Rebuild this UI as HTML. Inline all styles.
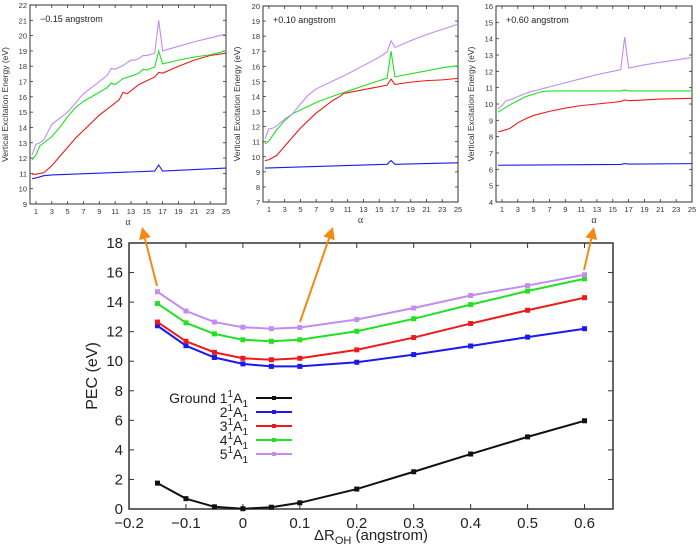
<!DOCTYPE html>
<html><head><meta charset="utf-8"><style>
html,body{margin:0;padding:0;background:#fff;}
svg{display:block;font-family:"Liberation Sans",sans-serif;}
</style></head><body>
<svg id="fig" width="700" height="546" viewBox="0 0 700 546"></svg>
<script>
// ===== Main chart data =====
const mainX = [-0.15,-0.1,-0.05,0,0.05,0.1,0.2,0.3,0.4,0.5,0.6];
const groundVals = [1.75,0.7,0.15,0.02,0.12,0.42,1.35,2.52,3.72,4.88,5.97];
const s2Vals = [12.4,11.05,10.25,9.82,9.65,9.65,9.93,10.45,11.03,11.63,12.2];
const s3Vals = [12.65,11.35,10.6,10.2,10.1,10.2,10.77,11.6,12.55,13.45,14.3];
const s4Vals = [13.9,12.6,11.85,11.45,11.35,11.45,12.03,12.87,13.83,14.75,15.58];
const s5Vals = [14.7,13.4,12.65,12.3,12.2,12.28,12.82,13.6,14.45,15.12,15.85];
const mainXTicks = [-0.2,-0.1,0,0.1,0.2,0.3,0.4,0.5,0.6];
const mainXTickLabels = ["\u22120.2","\u22120.1","0","0.1","0.2","0.3","0.4","0.5","0.6"];
const mainYTicks = [0,2,4,6,8,10,12,14,16,18];

// ===== Inset data (-0.15) =====
const a1Blue = [0.5,1,2,3,16,16.5,17,25];
const v1Blue = [10.65,10.7,10.85,10.9,11.15,11.55,11.15,11.35];
const a1Red = [0.5,1,2,3,4,5,6,7,8,9,10,11,11.5,12,12.5,13,14,15,16,16.5,17,19,21,23,25];
const v1Red = [10.95,10.95,11.05,11.5,12.1,12.7,13.3,13.8,14.3,14.8,15.2,15.6,15.8,16.3,16.2,16.4,16.8,17.05,17.3,17.6,17.55,18.0,18.4,18.7,18.85];
const a1Green = [0.5,1,1.5,2,3,4,5,6,7,8,9,10,10.5,11,12,13,14,14.5,15,16,16.5,17,19,21,23,25];
const v1Green = [11.9,12.2,12.8,13.0,13.4,14.0,14.7,15.3,15.7,16.0,16.3,16.6,16.9,16.8,17.2,17.35,17.55,17.8,17.75,17.95,19.0,18.15,18.4,18.6,18.75,19.0];
const a1Purple = [0.5,1,1.5,2,3,4,5,6,7,8,9,10,10.5,11,12,13,13.5,14,14.5,15,16,16.5,17,19,21,23,25];
const v1Purple = [12.2,12.9,13.0,13.2,14.2,14.6,15.0,15.6,16.2,16.6,17.0,17.4,17.85,17.8,18.05,18.4,18.4,18.5,18.7,18.7,18.85,21.0,19.0,19.3,19.6,19.85,20.1];
// ===== Inset data (+0.10) =====
const a2Blue = [0.5,16,16.5,17,25];
const v2Blue = [9.25,9.5,9.75,9.5,9.6];
const a2Red = [0.5,1,2,3,4,5,6,7,8,9,10,10.5,11,13,15,16,16.5,17,19,21,23,25];
const v2Red = [9.75,9.8,10.1,10.7,11.3,11.9,12.4,12.9,13.3,13.7,14.0,14.2,14.25,14.45,14.65,14.75,15.15,14.8,14.95,15.05,15.1,15.2];
const a2Green = [0.5,1,2,3,4,5,7,9,11,13,15,16,16.5,17,19,21,23,25];
const v2Green = [10.85,11.05,11.8,12.4,12.85,13.1,13.6,14.0,14.35,14.7,15.05,15.2,17.0,15.3,15.5,15.7,15.9,16.05];
const a2Purple = [0.5,1,1.5,2,3,4,5,6,7,9,11,13,15,16,16.5,17,19,21,23,25];
const v2Purple = [11.2,11.85,11.9,12.05,12.5,12.85,13.5,14.1,14.5,15.0,15.5,16.05,16.6,16.95,17.7,17.25,17.7,18.1,18.45,18.8];
// ===== Inset data (+0.60) =====
const a3Blue = [0.5,16,16.5,17,25];
const v3Blue = [6.25,6.3,6.35,6.32,6.35];
const a3Red = [0.5,1,2,3,4,5,7,9,11,13,15,16,16.5,17,19,21,25];
const v3Red = [8.3,8.35,8.5,8.85,9.1,9.3,9.55,9.75,9.9,10.0,10.1,10.15,10.25,10.2,10.25,10.3,10.35];
const a3Green = [0.5,1,2,3,4,5,6,7,9,16,16.5,17,25];
const v3Green = [9.5,9.65,9.95,10.2,10.45,10.6,10.75,10.8,10.8,10.8,10.85,10.8,10.8];
const a3Purple = [0.5,1,1.5,2,3,4,5,7,9,11,13,15,16,16.5,17,19,21,23,25];
const v3Purple = [9.7,9.9,10.2,10.25,10.45,10.65,10.8,11.05,11.3,11.55,11.8,12.0,12.1,14.1,12.2,12.4,12.55,12.7,12.85];
const alphaTicks = [1,3,5,7,9,11,13,15,17,19,21,23,25];

const NS="http://www.w3.org/2000/svg";
const svg=document.getElementById('fig');
function mk(tag,attrs,parent){const e=document.createElementNS(NS,tag);for(const k in attrs)e.setAttribute(k,attrs[k]);(parent||svg).appendChild(e);return e;}
const C={blue:"#1a1aee",red:"#ee1a1a",green:"#22e022",purple:"#c28cf0",black:"#111"};

function inset(g,L,R,T,B,ymin,ymax,label,ylabX,sets){
  const xs=a=>L+(a-0.25)/(25-0.25)*(R-L);
  const ys=v=>B-(v-ymin)/(ymax-ymin)*(B-T);
  const box=mk('rect',{x:L,y:T,width:R-L,height:B-T,fill:'none',stroke:'#333','stroke-width':1},g);
  
  
  for(let v=ymin;v<=ymax;v++){
    mk('line',{x1:L,x2:L+3,y1:ys(v),y2:ys(v),stroke:'#333','stroke-width':0.8},g);
    mk('line',{x1:R,x2:R-3,y1:ys(v),y2:ys(v),stroke:'#333','stroke-width':0.8},g);
    const t=mk('text',{x:L-3,y:ys(v)+3,'font-size':7.5,'text-anchor':'end',fill:'#333'},g);t.textContent=v;
    
    
  }
  alphaTicks.forEach(a=>{
    mk('line',{x1:xs(a),x2:xs(a),y1:B,y2:B-3,stroke:'#333','stroke-width':0.8},g);
    mk('line',{x1:xs(a),x2:xs(a),y1:T,y2:T+3,stroke:'#333','stroke-width':0.8},g);
    const t=mk('text',{x:xs(a),y:B+10,'font-size':7.5,'text-anchor':'middle',fill:'#333'},g);t.textContent=a;
    
    
  });
  const xl=mk('text',{x:(L+R)/2,y:B+21,'font-size':10,'text-anchor':'middle',fill:'#333','font-family':'Liberation Serif, serif'},g);xl.textContent='\u03b1';
  
  
  const yl=mk('text',{x:ylabX,y:(T+B)/2,'font-size':8.5,'text-anchor':'middle',fill:'#333',transform:`rotate(-90 ${ylabX} ${(T+B)/2})`},g);yl.textContent='Vertical Excitation Energy (eV)';
  
  
  const an=mk('text',{x:L+10,y:T+17,'font-size':9,fill:'#222'},g);an.textContent=label;
  
  
  sets.forEach(([a,v,c,n])=>{
    const p=mk('polyline',{points:a.map((x,i)=>xs(x)+','+ys(v[i])).join(' '),fill:'none',stroke:c,'stroke-width':1.1},g);
    
    
  });
}
let g1=mk('g',{});
inset(g1,30,226,5,204,9,22,'\u22120.15 angstrom',8,[[a1Blue,v1Blue,C.blue,'inset1-line-2A1'],[a1Red,v1Red,C.red,'inset1-line-3A1'],[a1Green,v1Green,C.green,'inset1-line-4A1'],[a1Purple,v1Purple,C.purple,'inset1-line-5A1']]);
let g2=mk('g',{});
inset(g2,263,458,6,202,7,20,'+0.10 angstrom',240,[[a2Blue,v2Blue,C.blue,'inset2-line-2A1'],[a2Red,v2Red,C.red,'inset2-line-3A1'],[a2Green,v2Green,C.green,'inset2-line-4A1'],[a2Purple,v2Purple,C.purple,'inset2-line-5A1']]);
let g3=mk('g',{});
inset(g3,496,692,6,202,4,16,'+0.60 angstrom',474,[[a3Blue,v3Blue,C.blue,'inset3-line-2A1'],[a3Red,v3Red,C.red,'inset3-line-3A1'],[a3Green,v3Green,C.green,'inset3-line-4A1'],[a3Purple,v3Purple,C.purple,'inset3-line-5A1']]);

// ===== Main chart =====
const ML=129,MR=613,MT=243,MB=509;
const mx=x=>ML+(x+0.2)/0.85*(MR-ML);
const my=v=>MB-v/18*(MB-MT);
const gm=mk('g',{});
mainYTicks.forEach(v=>{
  mk('line',{x1:ML,x2:ML+5,y1:my(v),y2:my(v),stroke:'#333'},gm);
  mk('line',{x1:MR,x2:MR-5,y1:my(v),y2:my(v),stroke:'#333'},gm);
  const t=mk('text',{x:ML-6,y:my(v)+5,'font-size':15,'text-anchor':'end',fill:'#222'},gm);t.textContent=v;
  
  
});
mainXTicks.forEach((x,i)=>{
  mk('line',{x1:mx(x),x2:mx(x),y1:MB,y2:MB-5,stroke:'#333'},gm);
  mk('line',{x1:mx(x),x2:mx(x),y1:MT,y2:MT+5,stroke:'#333'},gm);
  const t=mk('text',{x:mx(x),y:MB+19,'font-size':15,'text-anchor':'middle',fill:'#222'},gm);t.textContent=mainXTickLabels[i];
  
  
});
const fr=mk('rect',{x:ML,y:MT,width:MR-ML,height:MB-MT,fill:'none',stroke:'#333','stroke-width':1.5},gm);

const yt=mk('text',{x:97,y:376,'font-size':16,'text-anchor':'middle',fill:'#222',transform:'rotate(-90 97 376)'},gm);yt.textContent='PEC (eV)';

const xt=mk('text',{x:371,y:540,'font-size':15,'text-anchor':'middle',fill:'#222'},gm);
xt.innerHTML='\u0394R<tspan font-size="11" dy="4">OH</tspan><tspan dy="-4"> (angstrom)</tspan>';


const series=[[groundVals,C.black,'ground-1A1'],[s2Vals,C.blue,'2A1'],[s3Vals,C.red,'3A1'],[s4Vals,C.green,'4A1'],[s5Vals,C.purple,'5A1']];
series.forEach(([v,c,n])=>{
  const p=mk('polyline',{points:mainX.map((x,i)=>mx(x)+','+my(v[i])).join(' '),fill:'none',stroke:c,'stroke-width':2},gm);
  
  mainX.forEach((x,i)=>{
    const r=mk('rect',{x:mx(x)-2.5,y:my(v[i])-2.5,width:5,height:5,fill:c},gm);
    
  });
});
// legend
const labels=['Ground 1','2','3','4','5'];
series.forEach(([v,c,n],i)=>{
  const y=398+i*14;
  const lg=mk('g',{},gm);
  const t=mk('text',{x:248,y:y+5,'font-size':14,'text-anchor':'end',fill:'#222'},lg);
  t.innerHTML=labels[i]+'<tspan font-size="10" dy="-6">1</tspan><tspan dy="6">A</tspan><tspan font-size="10" dy="4">1</tspan>';
  mk('line',{x1:256,x2:292,y1:y,y2:y,stroke:c,'stroke-width':2},lg);
  mk('rect',{x:272,y:y-2,width:4,height:4,fill:c},lg);
});
// arrows
[[157,286,142,227],[300,322,333,227],[584,270,594,227]].forEach(([x1,y1,x2,y2])=>{
  const ag=mk('g',{});
  const dx=x2-x1,dy=y2-y1,len=Math.hypot(dx,dy),ux=dx/len,uy=dy/len;
  const bx=x2-ux*12,by=y2-uy*12;
  mk('line',{x1:x1,y1:y1,x2:bx,y2:by,stroke:'#f28a12','stroke-width':2},ag);
  mk('polygon',{points:`${x2},${y2} ${bx-uy*6},${by+ux*6} ${bx+uy*6},${by-ux*6}`,fill:'#f28a12'},ag);
});
</script>
</body></html>
